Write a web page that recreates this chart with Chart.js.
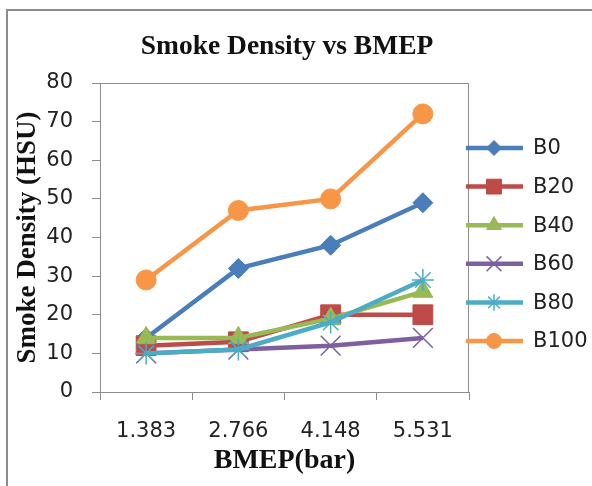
<!DOCTYPE html>
<html lang="en">
<head>
<meta charset="UTF-8">
<title>Smoke Density vs BMEP</title>
<script src="https://cdn.jsdelivr.net/npm/chart.js@4"></script>
<style>
    body { margin: 0; background: #fff; }
    #wrap { position: relative; width: 592px; height: 486px; overflow: hidden; }
    #frame { position: absolute; left: 6px; top: 9px; width: 620px; height: 520px; border: 2px solid #8c8c8c; pointer-events: none; }
</style>
</head>
<body>
<div id="wrap">
    <canvas id="smokeChart" width="592" height="486"></canvas>
    <div id="frame"></div>
</div>
<script>
// values
const bmep = ['1.383', '2.766', '4.148', '5.531'];
const b0   = [14, 32, 38, 49];
const b20  = [12, 13, 20, 20];
const b40  = [14, 14, 19, 26];
const b60  = [10, 11, 12, 14];
const b80  = [10, 11, 18, 29];
const b100 = [29, 47, 50, 72];
const seriesNames = ['B0', 'B20', 'B40', 'B60', 'B80', 'B100'];
const yTicks = [0, 10, 20, 30, 40, 50, 60, 70, 80];

const colors = ['#4a7ebb', '#be4b48', '#98b954', '#7d60a0', '#4bacc6', '#f79646'];
const markers = [
    { style: 'rectRot', r: 10, bw: 1 },
    { style: 'rect', r: 14, bw: 1 },
    { style: 'triangle', r: 11.5, bw: 1 },
    { style: 'crossRot', r: 14, bw: 1.5 },
    { style: 'star', r: 11, bw: 1.5 },
    { style: 'circle', r: 10, bw: 1 }
];
const allSeries = [b0, b20, b40, b60, b80, b100];

const datasets = allSeries.map((vals, i) => ({
    label: seriesNames[i],
    data: vals,
    borderColor: colors[i],
    backgroundColor: colors[i],
    pointBackgroundColor: colors[i],
    pointBorderColor: colors[i],
    pointStyle: markers[i].style,
    pointRadius: markers[i].r,
    pointBorderWidth: markers[i].bw,
    borderWidth: 4.5,
    tension: 0,
    order: allSeries.length - i
}));

// plot frame (top + right edges) like the spreadsheet chart
const plotBox = {
    id: 'plotBox',
    beforeDatasetsDraw(chart) {
        const { ctx, chartArea: a } = chart;
        ctx.save();
        ctx.strokeStyle = '#8c8c8c';
        ctx.lineWidth = 1;
        ctx.beginPath();
        ctx.moveTo(a.left, a.top + 0.5);
        ctx.lineTo(a.right - 0.5, a.top + 0.5);
        ctx.lineTo(a.right - 0.5, a.bottom);
        ctx.stroke();
        ctx.restore();
    }
};

// legend with line + marker, drawn on the canvas
const lineLegend = {
    id: 'lineLegend',
    afterDraw(chart) {
        const ctx = chart.ctx;
        ctx.save();
        chart.data.datasets.forEach((ds, i) => {
            const y = 148 + i * 38.6;
            ctx.strokeStyle = ds.borderColor;
            ctx.lineWidth = 4.5;
            ctx.beginPath();
            ctx.moveTo(466, y);
            ctx.lineTo(523, y);
            ctx.stroke();
            ctx.fillStyle = ds.pointBackgroundColor;
            ctx.strokeStyle = ds.pointBorderColor;
            ctx.lineWidth = ds.pointBorderWidth;
            Chart.helpers.drawPoint(ctx, { pointStyle: ds.pointStyle, radius: ds.pointRadius * 0.75, rotation: 0, borderWidth: ds.pointBorderWidth }, 494, y);
            ctx.fillStyle = '#222';
            ctx.font = '21px "DejaVu Sans"';
            ctx.textBaseline = 'middle';
            ctx.textAlign = 'left';
            ctx.fillText(ds.label, 533, y + 1);
        });
        ctx.restore();
    }
};

new Chart(document.getElementById('smokeChart'), {
    type: 'line',
    data: { labels: bmep, datasets: datasets },
    options: {
        responsive: false,
        animation: false,
        layout: { padding: { left: 0, right: 18, top: 0, bottom: 0 } },
        plugins: {
            legend: { display: false },
            tooltip: { enabled: false },
            title: {
                display: true,
                text: 'Smoke Density vs BMEP',
                color: '#111',
                font: { family: 'Liberation Serif', size: 27.5, weight: 'bold' },
                padding: { top: 30, bottom: 20 }
            }
        },
        scales: {
            x: {
                type: 'category',
                offset: true,
                afterFit(scale) { scale.height = 94; },
                grid: { offset: true, drawOnChartArea: false, drawTicks: true, tickLength: 8, color: '#8c8c8c' },
                border: { color: '#8c8c8c' },
                ticks: { color: '#222', padding: 19, font: { family: 'DejaVu Sans', size: 21 }, maxRotation: 0 },
                title: {
                    display: true,
                    text: 'BMEP(bar)',
                    color: '#111',
                    font: { family: 'Liberation Serif', size: 28, weight: 'bold' },
                    padding: { top: 0, bottom: 8 }
                }
            },
            y: {
                min: 0,
                max: 80,
                afterFit(scale) { scale.width = 100; },
                afterBuildTicks(scale) { scale.ticks = yTicks.map(v => ({ value: v })); },
                grid: { drawOnChartArea: false, drawTicks: true, tickLength: 8, color: '#8c8c8c' },
                border: { color: '#8c8c8c' },
                ticks: { color: '#222', padding: 19, font: { family: 'DejaVu Sans', size: 21 } },
                title: {
                    display: true,
                    text: 'Smoke Density (HSU)',
                    color: '#111',
                    font: { family: 'Liberation Serif', size: 27, weight: 'bold' },
                    padding: { top: 12, bottom: 0 }
                }
            },
            // empty box on the right that keeps room for the legend
            legendSpace: {
                type: 'linear',
                position: 'right',
                afterFit(scale) { scale.width = 105; },
                grid: { display: false },
                border: { display: false },
                ticks: { display: false }
            }
        }
    },
    plugins: [plotBox, lineLegend]
});
</script>
</body>
</html>
